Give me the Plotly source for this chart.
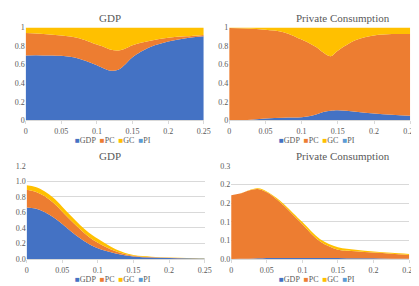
import plotly.graph_objects as go

# ---------------- data ----------------
series_names = ["GDP", "PC", "GC", "PI"]
x_ticks = [0, 0.05, 0.1, 0.15, 0.2, 0.25]
x_ticklabels = ["0", "0.05", "0.1", "0.15", "0.2", "0.25"]

# top panels (shares)
x_top = [0, 0.025, 0.05, 0.075, 0.1, 0.11, 0.12, 0.13, 0.14, 0.15, 0.175, 0.2, 0.225, 0.25]
tl_gdp = [0.700, 0.700, 0.695, 0.665, 0.595, 0.560, 0.535, 0.545, 0.605, 0.680, 0.790, 0.850, 0.885, 0.905]
tl_pc = [0.240, 0.230, 0.218, 0.220, 0.221, 0.230, 0.225, 0.208, 0.170, 0.130, 0.068, 0.040, 0.020, 0.015]
tl_gc = [0.060, 0.070, 0.087, 0.115, 0.184, 0.210, 0.240, 0.247, 0.225, 0.190, 0.142, 0.110, 0.095, 0.080]
tl_pi = [0, 0, 0, 0, 0, 0, 0, 0, 0, 0, 0, 0, 0, 0]

tr_gdp = [0.000, 0.006, 0.022, 0.030, 0.035, 0.045, 0.065, 0.090, 0.105, 0.110, 0.095, 0.075, 0.062, 0.052]
tr_pc = [0.995, 0.984, 0.953, 0.920, 0.835, 0.788, 0.725, 0.640, 0.585, 0.640, 0.770, 0.840, 0.868, 0.878]
tr_gc = [0.005, 0.010, 0.025, 0.050, 0.130, 0.167, 0.210, 0.270, 0.310, 0.250, 0.135, 0.085, 0.070, 0.070]
tr_pi = [0, 0, 0, 0, 0, 0, 0, 0, 0, 0, 0, 0, 0, 0]

# bottom panels (levels)
x_bot = [0, 0.0125, 0.025, 0.0375, 0.05, 0.0625, 0.075, 0.0875, 0.1, 0.125, 0.15, 0.175, 0.2, 0.225, 0.25]
bl_gdp = [0.665, 0.650, 0.607, 0.540, 0.452, 0.356, 0.268, 0.192, 0.138, 0.070, 0.031, 0.018, 0.012, 0.008, 0.005]
bl_pc = [0.228, 0.218, 0.205, 0.185, 0.158, 0.136, 0.115, 0.093, 0.072, 0.030, 0.011, 0.006, 0.004, 0.003, 0.002]
bl_gc = [0.057, 0.062, 0.063, 0.065, 0.065, 0.063, 0.057, 0.055, 0.050, 0.025, 0.008, 0.006, 0.003, 0.002, 0.002]
bl_pi = [0, 0, 0, 0, 0, 0, 0, 0, 0, 0, 0, 0, 0, 0, 0]

br_gdp = [0.000, 0.0005, 0.001, 0.002, 0.003, 0.003, 0.003, 0.003, 0.003, 0.003, 0.003, 0.002, 0.002, 0.001, 0.001]
br_pc = [0.206, 0.2105, 0.220, 0.224, 0.212, 0.192, 0.167, 0.138, 0.109, 0.053, 0.027, 0.023, 0.019, 0.016, 0.012]
br_gc = [0.000, 0.0005, 0.001, 0.002, 0.003, 0.004, 0.005, 0.006, 0.007, 0.008, 0.008, 0.005, 0.003, 0.003, 0.003]
br_pi = [0, 0, 0, 0, 0, 0, 0, 0, 0, 0, 0, 0, 0, 0, 0]

titles = ["GDP", "Private Consumption", "GDP", "Private Consumption"]
tl_yticks = [0, 0.2, 0.4, 0.6, 0.8, 1]
tl_yticklabels = ["0", "0.2", "0.4", "0.6", "0.8", "1"]
bl_yticks = [0, 0.2, 0.4, 0.6, 0.8, 1.0, 1.2]
bl_yticklabels = ["0.0", "0.2", "0.4", "0.6", "0.8", "1.0", "1.2"]
br_yticks = [0, 0.06, 0.12, 0.18, 0.24, 0.3]
br_yticklabels = ["0.0", "0.1", "0.1", "0.2", "0.2", "0.3"]

# ---------------- style ----------------
colors = ["#4472C4", "#ED7D31", "#FFC000", "#5B9BD5"]
FONT = "Liberation Serif"
TXT = "#595959"
GRID = "#d9d9d9"
W, H = 419, 286

def px(v):
    return v / W

def py(v):
    return 1 - v / H

panels = [
    dict(x=x_top, ys=[tl_gdp, tl_pc, tl_gc, tl_pi], xd=[16, 198], yd=[112, 16],
         yr=[0, 1], yt=tl_yticks, ytl=tl_yticklabels, grid=False, tx=102, ty=6, lx=105, ly=133),
    dict(x=x_top, ys=[tr_gdp, tr_pc, tr_gc, tr_pi], xd=[224, 409], yd=[112, 16],
         yr=[0, 1], yt=tl_yticks, ytl=tl_yticklabels, grid=False, tx=340, ty=6, lx=314, ly=133),
    dict(x=x_bot, ys=[bl_gdp, bl_pc, bl_gc, bl_pi], xd=[17, 199], yd=[255, 159],
         yr=[0, 1.2], yt=bl_yticks, ytl=bl_yticklabels, grid=True, tx=102, ty=149, lx=105, ly=276),
    dict(x=x_bot, ys=[br_gdp, br_pc, br_gc, br_pi], xd=[226, 408], yd=[255, 159],
         yr=[0, 0.3], yt=br_yticks, ytl=br_yticklabels, grid=True, tx=340, ty=149, lx=314, ly=276),
]

fig = go.Figure()
layout = dict(
    width=W, height=H, margin=dict(l=0, r=0, t=0, b=0),
    paper_bgcolor="white", plot_bgcolor="white", showlegend=False,
    font=dict(family=FONT, size=8, color=TXT),
)
annotations = []

for i, p in enumerate(panels):
    k = "" if i == 0 else str(i + 1)
    xa, ya = "x" + k, "y" + k
    for s, (name, vals) in enumerate(zip(series_names, p["ys"])):
        fig.add_trace(go.Scatter(
            x=p["x"], y=vals, name=name, mode="lines",
            stackgroup="g" + str(i), line=dict(width=0, shape="spline", smoothing=1.0),
            fillcolor=colors[s], xaxis=xa, yaxis=ya, showlegend=False,
        ))
    layout["xaxis" + k] = dict(
        domain=[px(p["xd"][0]), px(p["xd"][1])], anchor=ya, range=[0, 0.25],
        tickvals=x_ticks, ticktext=x_ticklabels, showgrid=False, zeroline=False,
        showline=True, linecolor=GRID, linewidth=1, ticks="outside", ticklen=3,
        tickcolor=GRID, tickfont=dict(family=FONT, size=8, color=TXT),
    )
    layout["yaxis" + k] = dict(
        domain=[py(p["yd"][0]), py(p["yd"][1])], anchor=xa, range=p["yr"],
        tickvals=p["yt"], ticktext=p["ytl"], showgrid=p["grid"], gridcolor=GRID,
        gridwidth=1, zeroline=False, showline=False, ticks="",
        tickfont=dict(family=FONT, size=8, color=TXT),
    )
    annotations.append(dict(
        text=titles[i], x=px(p["tx"]), y=py(p["ty"]), xref="paper", yref="paper",
        showarrow=False, xanchor="center", yanchor="middle",
        font=dict(family=FONT, size=11, color=TXT),
    ))
    leg = "&nbsp;&nbsp;".join(
        '<span style="color:%s">■</span>%s' % (c, n) for c, n in zip(colors, series_names)
    )
    annotations.append(dict(
        text=leg, x=px(p["lx"]), y=py(p["ly"]), xref="paper", yref="paper",
        showarrow=False, xanchor="center", yanchor="middle",
        font=dict(family=FONT, size=8, color=TXT),
    ))

layout["annotations"] = annotations
fig.update_layout(**layout)
fig.write_html("out.html")
